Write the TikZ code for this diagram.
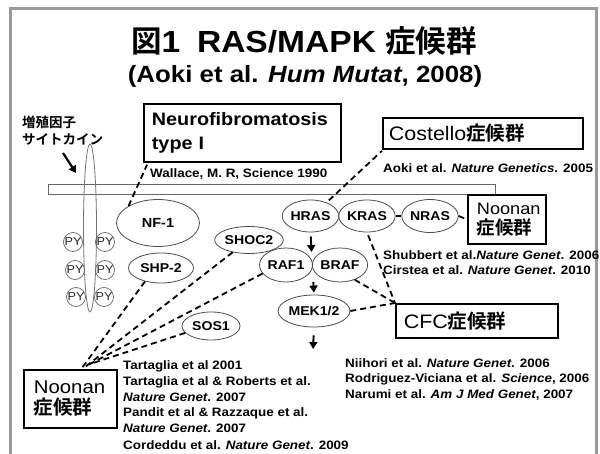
\documentclass[tikz,border=0pt]{standalone}
\usepackage{fontspec}
\setmainfont{Liberation Sans}[FakeStretch=1.1]
\newfontfamily\jp{Noto Sans CJK JP}[BoldFont={Noto Sans CJK JP Bold}]
\usetikzlibrary{shapes.geometric,arrows.meta,calc}
\newcommand{\fsz}[1]{\fontsize{#1}{#1}\selectfont}
\begin{document}
\begin{tikzpicture}[x=1pt,y=-1pt,
  every node/.style={inner sep=0pt,font=\bfseries},
  gene/.style={ellipse,draw=black!70,line width=0.8pt,fill=white,inner sep=0pt,font=\bfseries\fsz{12.8}},
  synbox/.style={draw=black,line width=1.8pt,fill=white,anchor=north west,align=left},
  refline/.style={anchor=base west,inner sep=0pt,font=\bfseries\fsz{12.2}},
  link/.style={line width=1.8pt,dash pattern=on 6pt off 4pt},
  flow/.style={line width=1.9pt,-{Triangle[width=8pt,length=7pt]}},
  pyc/.style={circle,draw=black!60,line width=0.7pt,minimum size=19pt,inner sep=0pt,font=\mdseries\fsz{11.5},text=black!85},
  framecol/.style={draw=black!40,line width=3pt}]
\useasboundingbox (0,0) rectangle (600,454);
% frame
\draw[framecol] (10,458) -- (10,9) -- (596,9) -- (596,458);

% title
\node (title) at (304,41) {\fsz{30.5}{\jp\bfseries 図}1\hspace{0.55em}RAS/MAPK {\jp\bfseries 症候群}};
\node (subtitle) at (305,76) {\fsz{23.5}(Aoki et al. \textit{Hum Mutat}, 2008)};

% growth factor label
\node[anchor=north west,align=left,font=\jp\bfseries\fontsize{13.5}{17}\selectfont] (gflab) at (22,116) {増殖因子\\サイトカイン};
\coordinate (gfa) at (63,153);
\coordinate (gfb) at (76,173);
\draw[flow,line width=2.2pt] (gfa) -- (gfb);

% membrane and receptor
\node[draw=black!60,line width=0.8pt,fill=white,minimum width=447pt,minimum height=10pt,anchor=north west] (mem) at (48,184) {};
\node[ellipse,draw=black!55,line width=0.8pt,minimum width=13pt,minimum height=168pt] (rcpt) at (90,228) {};
\node[pyc] (py1) at (73,242) {PY};
\node[pyc] (py2) at (105,242) {PY};
\node[pyc] (py3) at (75,270) {PY};
\node[pyc] (py4) at (105,270) {PY};
\node[pyc] (py5) at (76,297) {PY};
\node[pyc] (py6) at (104,297) {PY};

% genes
\node[gene,minimum width=83pt,minimum height=47pt,font=\bfseries\fsz{13.2}] (nf1) at (158,223) {NF-1};
\node[gene,minimum width=65pt,minimum height=30pt] (shp2) at (161,268) {SHP-2};
\node[gene,minimum width=60pt,minimum height=27pt] (shoc2) at (249,240) {SHOC2};
\node[gene,minimum width=53pt,minimum height=32pt] (hras) at (310.5,216) {HRAS};
\node[gene,minimum width=52pt,minimum height=32pt] (kras) at (367,216) {KRAS};
\node[gene,minimum width=46pt,minimum height=33pt] (nras) at (430,216) {NRAS};
\node[gene,minimum width=53pt,minimum height=34pt] (raf1) at (286,265) {RAF1};
\node[gene,minimum width=53pt,minimum height=34pt] (braf) at (340,265) {BRAF};
\node[gene,minimum width=62pt,minimum height=32pt] (mek) at (314,311) {MEK1/2};
\node[gene,minimum width=58pt,minimum height=28pt] (sos1) at (211,326) {SOS1};

% syndrome boxes
\node[synbox,minimum width=197pt,minimum height=58pt,inner xsep=8pt,text width=181pt,font=\bfseries\fontsize{18}{23.5}\selectfont] (neuro) at (143,103) {Neurofibromatosis\\type I};
\node[synbox,minimum width=200pt,minimum height=31pt,inner xsep=6pt,text width=188pt,font=\mdseries\fsz{19.5}] (costello) at (382,117) {Costello{\jp\bfseries 症候群}};
\node[synbox,minimum width=78pt,minimum height=49pt,inner xsep=9pt,text width=60pt,font=\mdseries\fontsize{16.5}{20}\selectfont] (noonanR) at (467,194) {Noonan\\{\jp\bfseries\fsz{18.5}症候群}};
\node[synbox,minimum width=162pt,minimum height=34pt,inner xsep=8pt,text width=146pt,font=\mdseries\fsz{19.5}] (cfc) at (395,303) {CFC{\jp\bfseries 症候群}};
\node[synbox,minimum width=93pt,minimum height=58pt,inner xsep=10pt,text width=73pt,font=\mdseries\fontsize{18.5}{21}\selectfont] (noonanL) at (23,369) {Noonan\\{\jp\bfseries\fsz{19.5}症候群}};

% references
\node[refline] (rWal) at (150,177.4) {Wallace, M. R, Science 1990};
\node[refline] (rAoki) at (383,172.4) {Aoki et al. \textit{Nature Genetics}. 2005};
\node[refline] (rShu) at (383,259.5) {Shubbert et al.\textit{Nature Genet}. 2006};
\node[refline] (rCir) at (383,275) {Cirstea et al. \textit{Nature Genet}. 2010};
\node[refline] (rNii) at (345,367.5) {Niihori et al. \textit{Nature Genet}. 2006};
\node[refline] (rRod) at (345,383) {Rodriguez-Viciana et al. \textit{Science}, 2006};
\node[refline] (rNar) at (345,399) {Narumi et al. \textit{Am J Med Genet}, 2007};
\node[refline] (rT1) at (123,369.5) {Tartaglia et al 2001};
\node[refline] (rT2) at (123,385) {Tartaglia et al \& Roberts et al.};
\node[refline] (rT3) at (123,401) {\textit{Nature Genet}. 2007};
\node[refline] (rP1) at (123,416.5) {Pandit et al \& Razzaque et al.};
\node[refline] (rP2) at (123,432.5) {\textit{Nature Genet}. 2007};
\node[refline] (rC) at (123,449) {Cordeddu et al. \textit{Nature Genet}. 2009};

% signalling arrows
\coordinate (rb) at ($(raf1.east)!0.5!(braf.west)$);
\coordinate (erk) at (313,349);
\draw[flow,shorten <=4pt,shorten >=13pt] (hras.south) -- (rb);
\draw[flow,shorten <=17pt,shorten >=2pt] (rb) -- (mek.north);
\draw[flow,shorten <=8pt] (mek.south) -- (erk);

% dashed links
\draw[link] (nf1.150) -- ($(neuro.south west)+(4,2)$);
\draw[link,shorten <=3pt] (hras.40) -- ($(costello.south west)+(0,1)$);
\draw[link] (kras.east) -- (nras.west);
\draw[link] (nras.east) -- (noonanR.west);
\draw[link,shorten <=3pt] (kras.south) -- (cfc.north west);
\draw[link] (braf.-45) -- (cfc.north west);
\draw[link] (mek.east) -- (cfc.north west);
\draw[link] (shp2.-140) -- ($(noonanL.north west)+(59,-1)$);
\draw[link] (shoc2.-143) -- ($(noonanL.north west)+(62,-2)$);
\draw[link] (raf1.-160) -- ($(noonanL.north west)+(65,-4)$);
\draw[link] (sos1.-165) -- ($(noonanL.north west)+(67,-5)$);
\end{tikzpicture}
\end{document}
